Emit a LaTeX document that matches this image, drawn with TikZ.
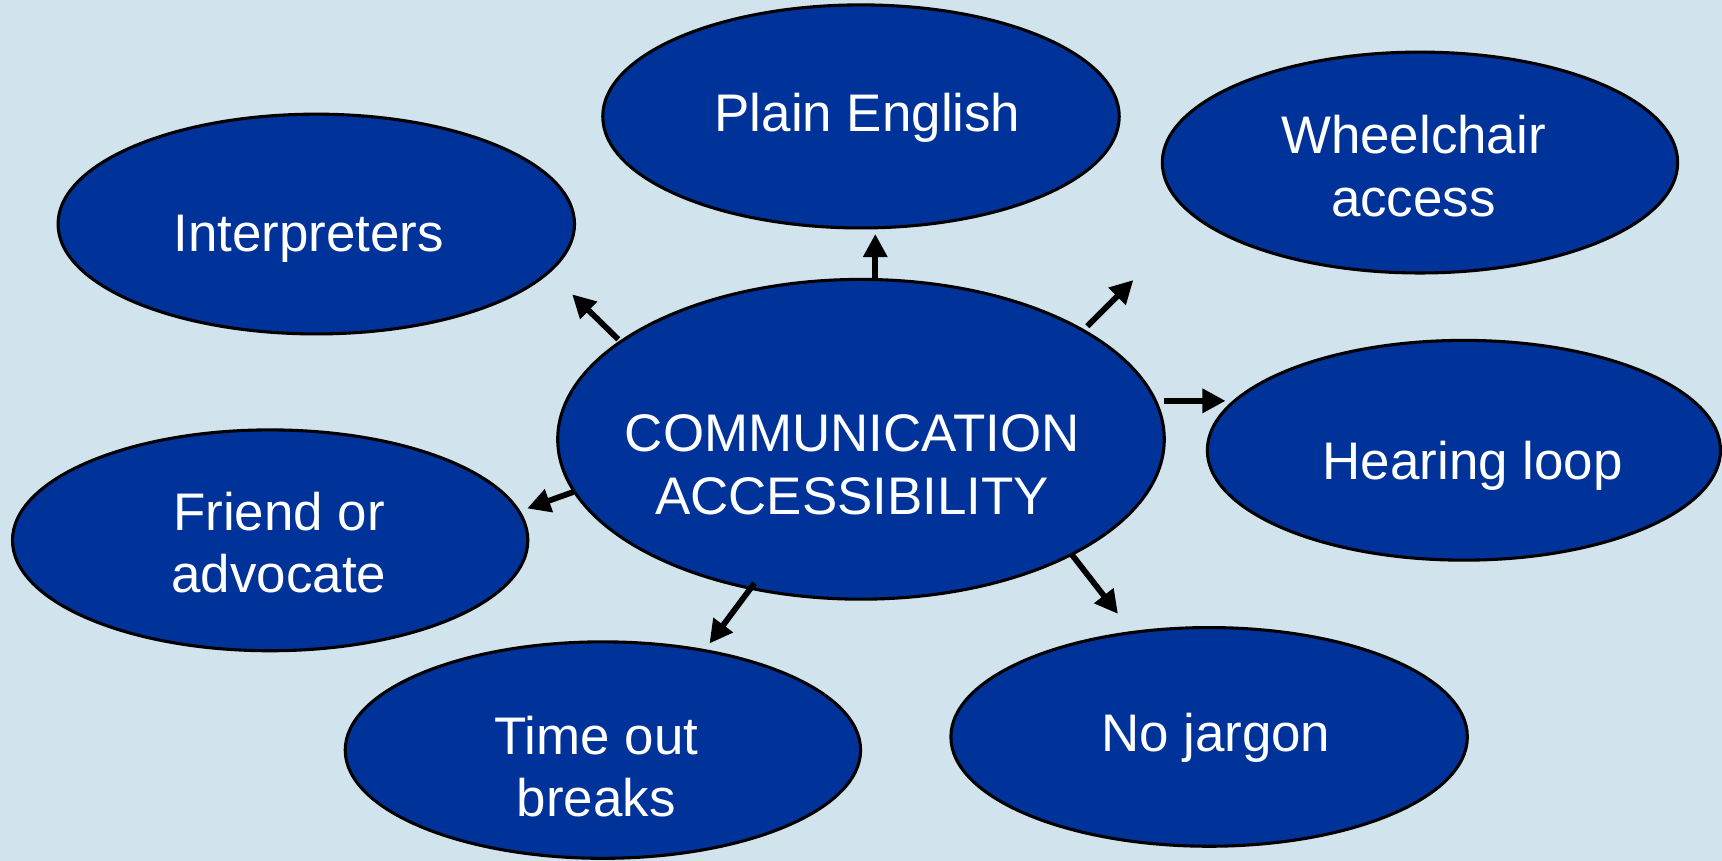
\documentclass[tikz,border=0pt]{standalone}
\usepackage{fontspec}
\setmainfont{Liberation Sans}
\usetikzlibrary{shapes.geometric,arrows.meta}
\definecolor{bgc}{HTML}{D1E3EC}
\definecolor{ovalc}{HTML}{003399}
\tikzset{
  oval/.style={draw=black,line width=0.8pt,fill=ovalc,ellipse,inner sep=0pt},
  lbl/.style={text=white,align=center,font=\fontsize{13.7pt}{16.2pt}\selectfont,inner sep=0pt},
  arr/.style={line width=1.5pt,-{Triangle[length=6pt,width=6pt]}}
}
\begin{document}
\begin{tikzpicture}[x=0.01cm,y=-0.01cm]
\fill[bgc] (0,0) rectangle (1568,784);
\useasboundingbox (0,0) rectangle (1568,784);
% ovals
\node[oval,minimum width=4.70cm,minimum height=2.03cm] (pe) at (784,106) {};
\node[oval,minimum width=4.69cm,minimum height=2.01cm] (wa) at (1293,148) {};
\node[oval,minimum width=4.70cm,minimum height=2.00cm] (in) at (288,204) {};
\node[oval,minimum width=5.52cm,minimum height=2.91cm] (ca) at (784,400) {};
\node[oval,minimum width=4.67cm,minimum height=2.00cm] (hl) at (1333,410) {};
\node[oval,minimum width=4.69cm,minimum height=2.01cm] (fa) at (246,492) {};
\node[oval,minimum width=4.69cm,minimum height=1.97cm] (tb) at (549,683) {};
\node[oval,minimum width=4.70cm,minimum height=1.99cm] (nj) at (1101,671) {};
% labels
\node[lbl] (tpe) at (790,107) {Plain English};
\node[lbl] (twa) at (1287,151) {Wheelchair\\access};
\node[lbl] (tin) at (281,217) {Interpreters};
\node[lbl] (tca) at (776,423) {COMMUNICATION\\ACCESSIBILITY};
\node[lbl] (thl) at (1341,424) {Hearing loop};
\node[lbl] (tfa) at (254,494) {Friend or\\advocate};
\node[lbl] (ttb) at (543,698) {Time out\\breaks};
\node[lbl] (tnj) at (1107,672) {No jargon};
% arrow end points
\coordinate (s1) at (797,255); \coordinate (e1) at (797,213);
\coordinate (s2) at (990,297); \coordinate (e2) at (1032,255);
\coordinate (s3) at (563,309); \coordinate (e3) at (521,268);
\coordinate (s4) at (1060,365); \coordinate (e4) at (1116,365);
\coordinate (s5) at (522,448); \coordinate (e5) at (480,463);
\coordinate (s6) at (687,531); \coordinate (e6) at (646,586);
\coordinate (s7) at (976,505); \coordinate (e7) at (1018,559);
\draw[arr] (s1) -- (e1);
\draw[arr] (s2) -- (e2);
\draw[arr] (s3) -- (e3);
\draw[arr] (s4) -- (e4);
\draw[arr] (s5) -- (e5);
\draw[arr] (s6) -- (e6);
\draw[arr] (s7) -- (e7);
\end{tikzpicture}
\end{document}
